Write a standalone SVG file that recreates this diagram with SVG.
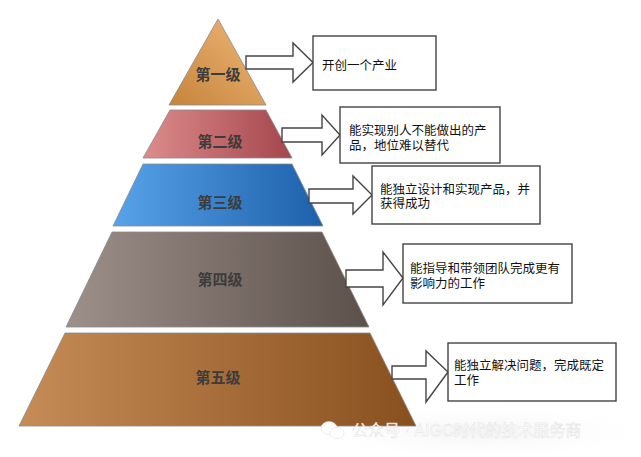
<svg xmlns="http://www.w3.org/2000/svg" width="641" height="457" viewBox="0 0 641 457">
<style>
.lvl{stroke:#8a8a8a;stroke-width:0.8}
.lbl{font-family:"Liberation Sans","Noto Sans CJK SC",sans-serif;font-size:15px;font-weight:bold;fill:#3c3c3c;text-anchor:middle}
.box{fill:#fff;stroke:#444;stroke-width:1.4}
.arr{fill:#fff;stroke:#444;stroke-width:1.4;stroke-linejoin:miter}
.txt{font-family:"Liberation Sans","Noto Sans CJK SC",sans-serif;font-size:12.5px;fill:#111}
.wm{font-family:"Liberation Sans","Noto Sans CJK SC",sans-serif;font-size:16px;fill:#fff;stroke:#dedede;stroke-width:0.4}
</style>
<defs>
<linearGradient id="g1" x1="0" y1="1" x2="1" y2="0"><stop offset="0" stop-color="#c5843b"/><stop offset="1" stop-color="#f0b878"/></linearGradient>
<linearGradient id="g2" x1="0" y1="0" x2="1" y2="0"><stop offset="0" stop-color="#dd8c8c"/><stop offset="1" stop-color="#a4464d"/></linearGradient>
<linearGradient id="g3" x1="0" y1="0" x2="1" y2="0"><stop offset="0" stop-color="#58a3ea"/><stop offset="1" stop-color="#1c60a9"/></linearGradient>
<linearGradient id="g4" x1="0" y1="0" x2="1" y2="0"><stop offset="0" stop-color="#9d908a"/><stop offset="1" stop-color="#5c504a"/></linearGradient>
<linearGradient id="g5" x1="0" y1="0" x2="1" y2="0"><stop offset="0" stop-color="#c68c57"/><stop offset="1" stop-color="#88501e"/></linearGradient>
<radialGradient id="wmbg" cx="0.5" cy="0.5" r="0.5"><stop offset="0" stop-color="#f3f3f3"/><stop offset="1" stop-color="#ffffff" stop-opacity="0"/></radialGradient>
</defs>
<ellipse cx="480" cy="432" rx="190" ry="30" fill="url(#wmbg)"/>
<g id="level1"><polygon class="lvl" points="218,19 266,105 169,105" fill="url(#g1)"/><text class="lbl" x="218" y="80">第一级</text></g>
<g id="level2"><polygon class="lvl" points="170,110 266,110 292,158 143,158" fill="url(#g2)"/><text class="lbl" x="220" y="147">第二级</text></g>
<g id="level3"><polygon class="lvl" points="143,164 292,164 323,226 113,226" fill="url(#g3)"/><text class="lbl" x="220" y="208">第三级</text></g>
<g id="level4"><polygon class="lvl" points="112,232 322,232 369,327 66,327" fill="url(#g4)"/><text class="lbl" x="220" y="285">第四级</text></g>
<g id="level5"><polygon class="lvl" points="65,333 370,333 416,426 19,426" fill="url(#g5)"/><text class="lbl" x="218" y="383">第五级</text></g>
<g id="connectors">
<polygon class="arr" points="246,56 293,56 293,43 313,62.5 293,82 293,69 246,69"/>
<polygon class="arr" points="282,128 322,128 322,115 340,135 322,155 322,142 282,142"/>
<polygon class="arr" points="309,189 353,189 353,176 372,195 353,214 353,203 309,203"/>
<polygon class="arr" points="346,270 383,270 383,252 403,278 383,305 383,287 346,287"/>
<polygon class="arr" points="392,366 426,366 426,351 448,372 426,402 426,379 392,379"/>
</g>
<g id="box1"><rect class="box" x="313" y="36" width="123" height="54"/><text class="txt" x="322" y="69.5">开创一个产业</text></g>
<g id="box2"><rect class="box" x="340" y="107" width="160" height="56"/><text class="txt" x="349" y="134.5">能实现别人不能做出的产</text><text class="txt" x="349" y="149.5">品，地位难以替代</text></g>
<g id="box3"><rect class="box" x="372" y="166" width="168" height="58"/><text class="txt" x="380" y="193.5">能独立设计和实现产品，并</text><text class="txt" x="380" y="208">获得成功</text></g>
<g id="box4"><rect class="box" x="403" y="244" width="169" height="59"/><text class="txt" x="410" y="272.5">能指导和带领团队完成更有</text><text class="txt" x="410" y="287.5">影响力的工作</text></g>
<g id="box5"><rect class="box" x="448" y="343" width="168" height="58"/><text class="txt" x="454" y="369.5">能独立解决问题，完成既定</text><text class="txt" x="454" y="384.5">工作</text></g>
<g id="watermark">
<ellipse cx="329" cy="428" rx="8" ry="6.5" fill="#fff" stroke="#dedede" stroke-width="0.5"/>
<ellipse cx="337" cy="433" rx="7" ry="5.5" fill="#fff" stroke="#dedede" stroke-width="0.5"/>
<text class="wm" x="352" y="436">公众号 · AIGC时代的技术服务商</text>
</g>
</svg>
